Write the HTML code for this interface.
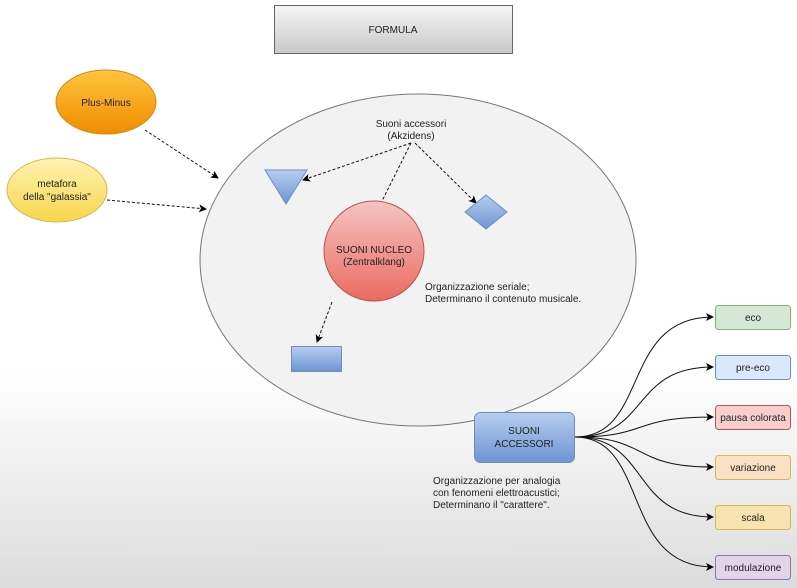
<!DOCTYPE html>
<html><head><style>
body{margin:0;width:797px;height:588px;overflow:hidden;background:linear-gradient(#fff 0,#fff 370px,#dcdcdc 588px);font-family:"Liberation Sans",sans-serif;}
svg{position:absolute;left:0;top:0}
text{font-family:"Liberation Sans",sans-serif;font-size:10px;fill:#222}
</style></head><body>
<svg width="797" height="588" viewBox="0 0 797 588">
<defs>
<linearGradient id="gf" x1="0" y1="0" x2="0" y2="1"><stop offset="0" stop-color="#f5f5f5"/><stop offset="1" stop-color="#c8c8c8"/></linearGradient>
<linearGradient id="go" x1="0" y1="0" x2="0" y2="1"><stop offset="0" stop-color="#ffc53d"/><stop offset="1" stop-color="#f08c00"/></linearGradient>
<linearGradient id="gy" x1="0" y1="0" x2="0" y2="1"><stop offset="0" stop-color="#fff3b0"/><stop offset="1" stop-color="#f7d54c"/></linearGradient>
<linearGradient id="gr" x1="0" y1="0" x2="0" y2="1"><stop offset="0" stop-color="#f6c4c2"/><stop offset="1" stop-color="#ea6b60"/></linearGradient>
<linearGradient id="gb" x1="0" y1="0" x2="0" y2="1"><stop offset="0" stop-color="#b7cdf0"/><stop offset="1" stop-color="#6d94d2"/></linearGradient>
<marker id="a" markerWidth="8" markerHeight="8" refX="7" refY="4" orient="auto" markerUnits="userSpaceOnUse"><path d="M0,0 L8,4 L0,8 L2,4z" fill="#000"/></marker>
</defs>
<rect x="274.5" y="5.5" width="238" height="48" fill="url(#gf)" stroke="#666"/>
<text x="393" y="33" text-anchor="middle">FORMULA</text>
<ellipse cx="418" cy="260" rx="218" ry="166" fill="#f2f2f2" stroke="#777"/>
<ellipse cx="106" cy="102" rx="50" ry="32" fill="url(#go)" stroke="#d08a10"/>
<text x="106" y="106" text-anchor="middle">Plus-Minus</text>
<ellipse cx="57" cy="190" rx="50" ry="32" fill="url(#gy)" stroke="#d6b656"/>
<text x="57" y="187" text-anchor="middle">metafora</text>
<text x="57" y="200" text-anchor="middle">della "galassia"</text>
<g stroke="#111" stroke-dasharray="3,2" fill="none" marker-end="url(#a)">
<path d="M145,130 L218,178"/>
<path d="M107,200 L206,209"/>
<path d="M411,143 L303,180"/>
<path d="M415,143 L476,203"/>
<path d="M332,302 L317,342"/>
</g>
<path d="M411,143 L381,203" stroke="#111" stroke-dasharray="3,2" fill="none"/>
<text x="411" y="127" text-anchor="middle">Suoni accessori</text>
<text x="411" y="139" text-anchor="middle">(Akzidens)</text>
<polygon points="265,170 307,170 286,204" fill="url(#gb)" stroke="#6c8ebf"/>
<polygon points="486,195 507,212 486,229 465,212" fill="url(#gb)" stroke="#6c8ebf"/>
<rect x="291.5" y="346.5" width="50" height="25" fill="url(#gb)" stroke="#6c8ebf"/>
<circle cx="374" cy="251" r="50" fill="url(#gr)" stroke="#b85450"/>
<text x="374" y="253" text-anchor="middle" font-size="10.5">SUONI NUCLEO</text>
<text x="374" y="265" text-anchor="middle">(Zentralklang)</text>
<text x="425" y="290">Organizzazione seriale;</text>
<text x="425" y="302">Determinano il contenuto musicale.</text>
<rect x="474.5" y="412.5" width="100" height="50" rx="6" fill="url(#gb)" stroke="#6c8ebf"/>
<text x="524" y="434" text-anchor="middle">SUONI</text>
<text x="524" y="447" text-anchor="middle">ACCESSORI</text>
<text x="433" y="484">Organizzazione per analogia</text>
<text x="433" y="496">con fenomeni elettroacustici;</text>
<text x="433" y="508">Determinano il "carattere".</text>
<g stroke="#111" fill="none" marker-end="url(#a)">
<path d="M575,437 C650,437 620,317 713,317"/>
<path d="M575,437 C650,437 630,367 713,367"/>
<path d="M575,437 C650,437 630,417 713,417"/>
<path d="M575,437 C650,437 630,467 713,467"/>
<path d="M575,437 C650,437 630,517 713,517"/>
<path d="M575,437 C650,437 620,567 713,567"/>
</g>
<g stroke-width="1">
<rect x="715.5" y="305.5" width="75" height="24" rx="3" fill="#d5e8d4" stroke="#82b366"/>
<rect x="715.5" y="355.5" width="75" height="24" rx="3" fill="#dae8fc" stroke="#6c8ebf"/>
<rect x="715.5" y="405.5" width="75" height="24" rx="3" fill="#f8cecc" stroke="#b85450"/>
<rect x="715.5" y="455.5" width="75" height="24" rx="3" fill="#fae1c3" stroke="#d6b656"/>
<rect x="715.5" y="505.5" width="75" height="24" rx="3" fill="#f7e3b0" stroke="#d6b656"/>
<rect x="715.5" y="555.5" width="75" height="24" rx="3" fill="#e1d5e7" stroke="#9673a6"/>
</g>
<text x="753" y="321" text-anchor="middle">eco</text>
<text x="753" y="371" text-anchor="middle">pre-eco</text>
<text x="753" y="421" text-anchor="middle">pausa colorata</text>
<text x="753" y="471" text-anchor="middle">variazione</text>
<text x="753" y="521" text-anchor="middle">scala</text>
<text x="753" y="571" text-anchor="middle">modulazione</text>
</svg>
</body></html>
